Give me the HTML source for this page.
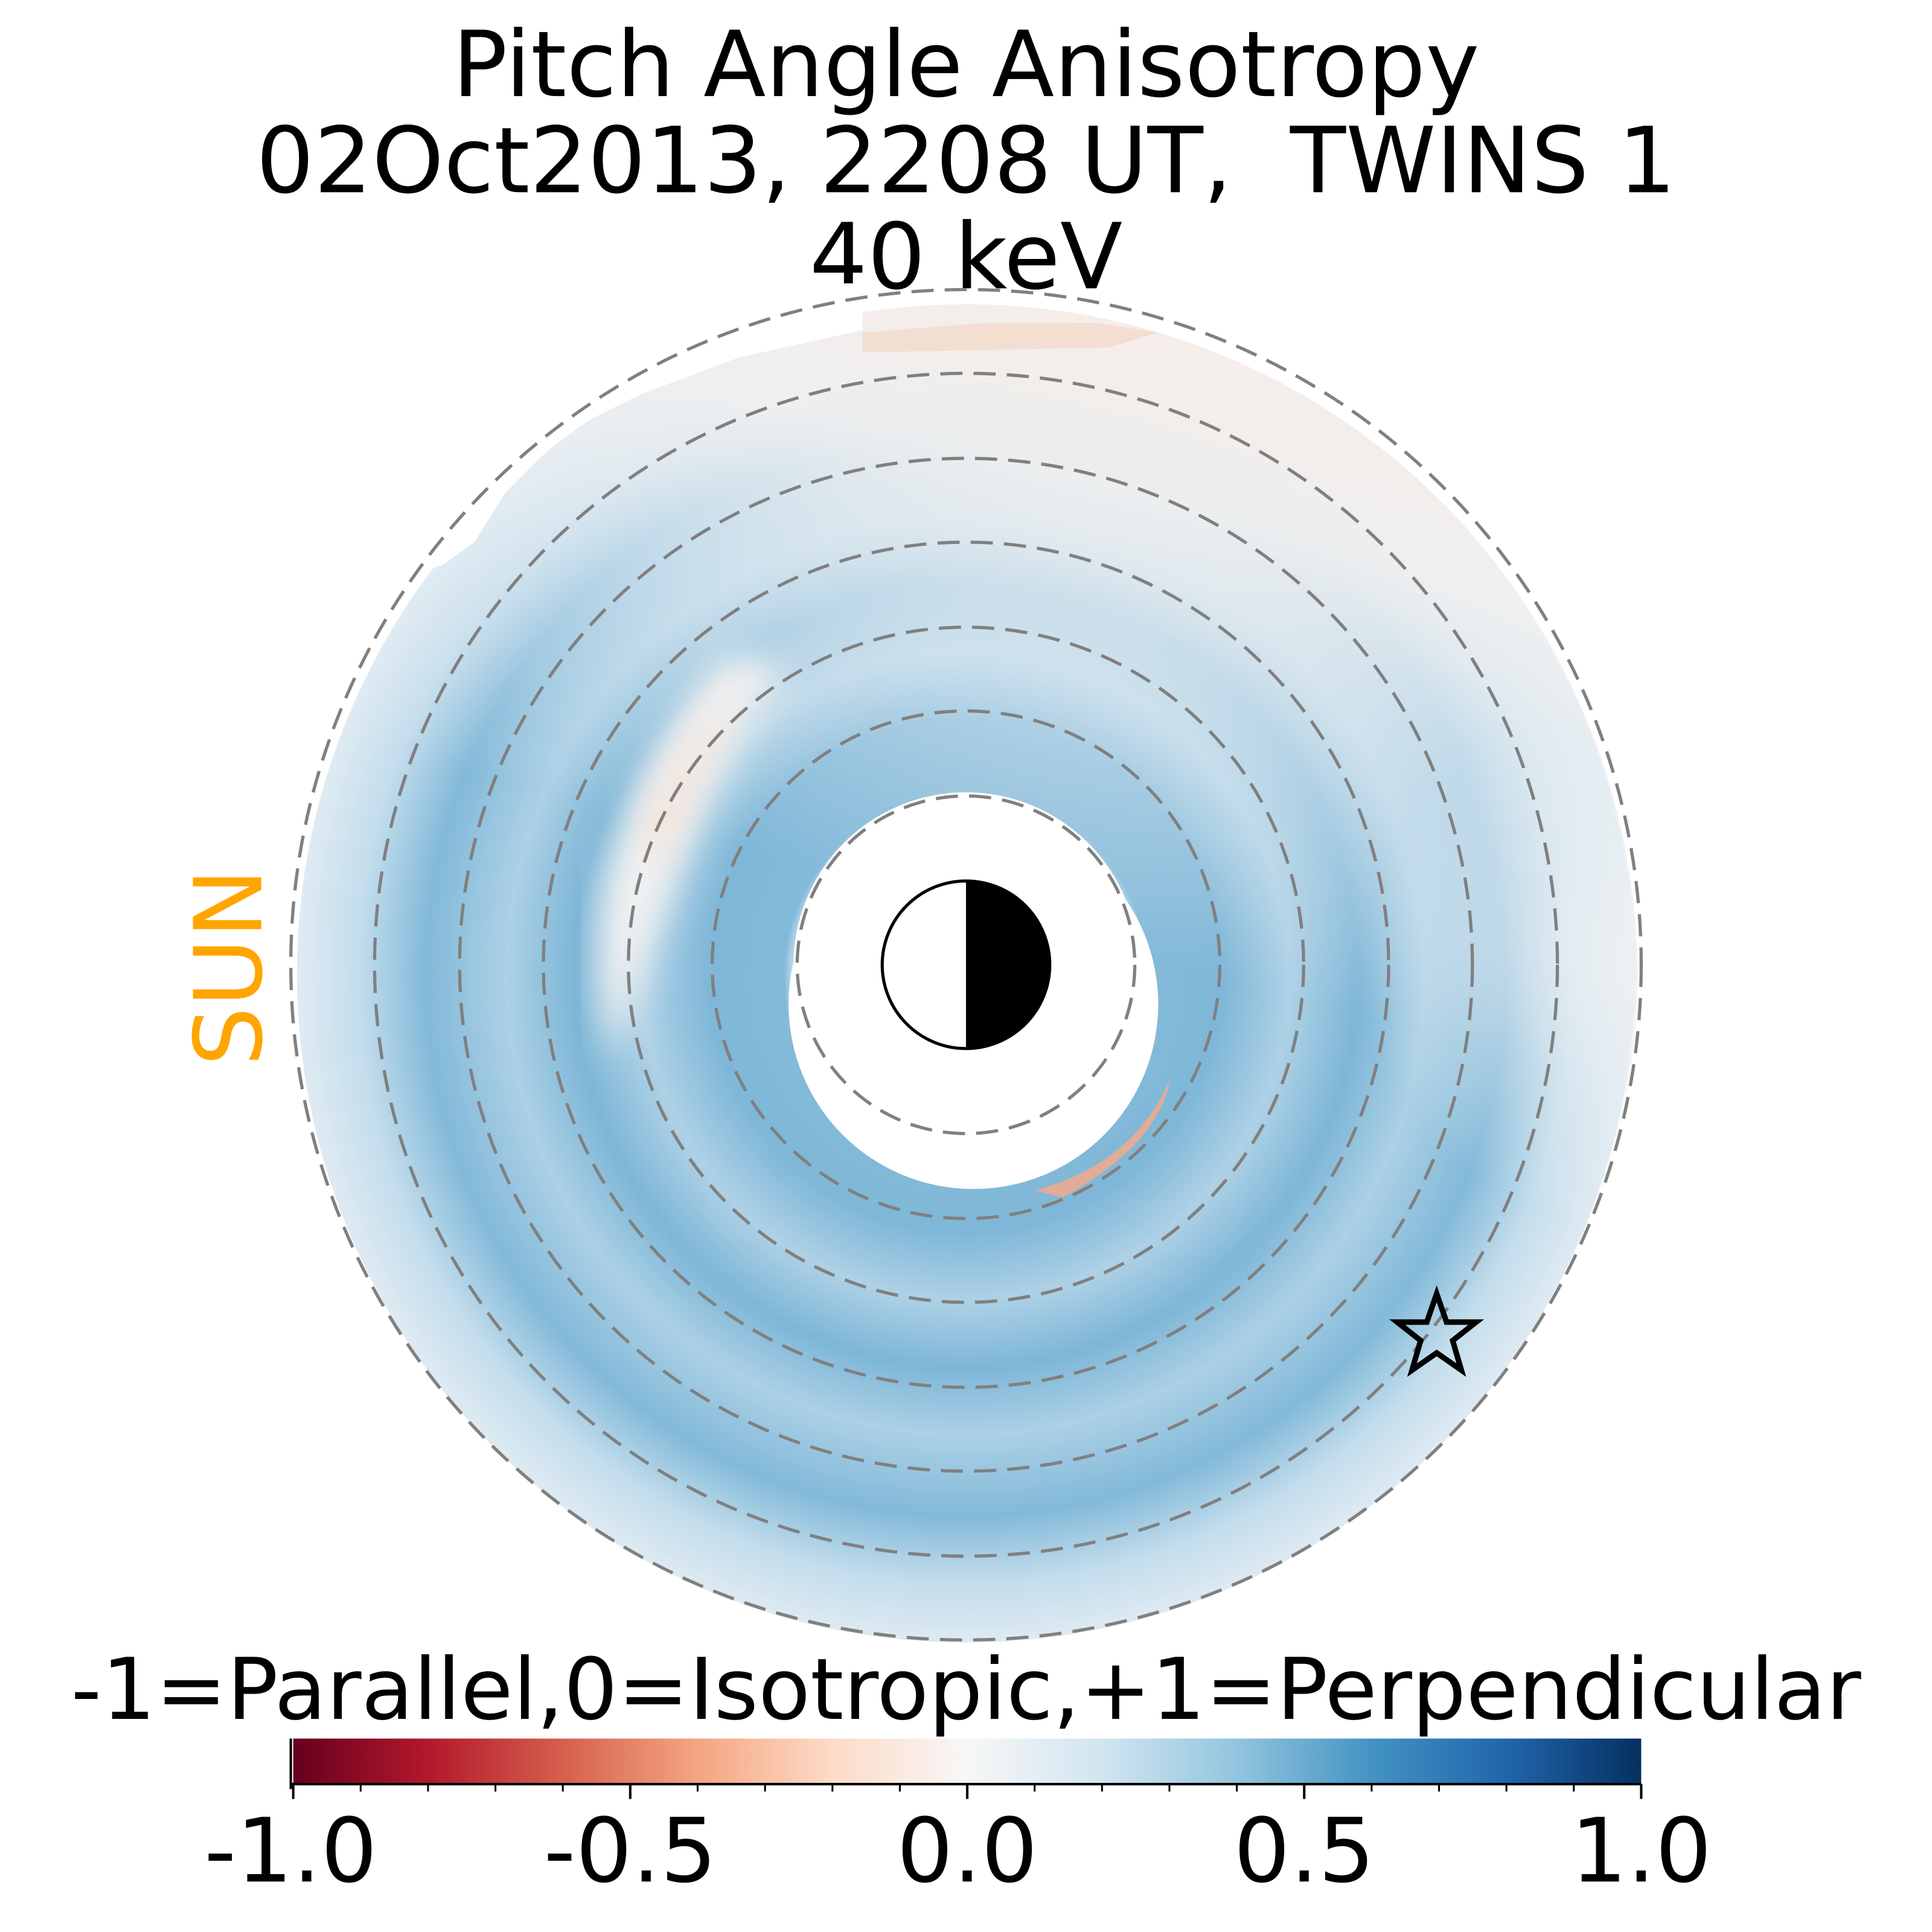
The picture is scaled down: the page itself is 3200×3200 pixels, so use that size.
<!DOCTYPE html>
<html><head><meta charset="utf-8"><style>
html,body{margin:0;padding:0;background:#fff;}
svg{display:block;}
text{font-family:"DejaVu Sans","Liberation Sans",sans-serif;}
</style></head><body>
<svg width="3200" height="3200" viewBox="0 0 1568 1568" xmlns="http://www.w3.org/2000/svg">
<defs>
<radialGradient id="rg" cx="784" cy="792" r="548" gradientUnits="userSpaceOnUse">
<stop offset="0" stop-color="#ffffff"/>
<stop offset="0.24" stop-color="#ffffff"/>
<stop offset="0.27" stop-color="#84bad9"/>
<stop offset="0.38" stop-color="#7fb7d8"/>
<stop offset="0.48" stop-color="#aed1e6"/>
<stop offset="0.58" stop-color="#7db6d7"/>
<stop offset="0.68" stop-color="#acd0e5"/>
<stop offset="0.80" stop-color="#82b9d9"/>
<stop offset="0.90" stop-color="#c3ddec"/>
<stop offset="1" stop-color="#e2ecf3"/>
</radialGradient>
<linearGradient id="ov" x1="0.62" y1="0" x2="0.5" y2="0.45">
<stop offset="0" stop-color="#f6ede8" stop-opacity="1"/>
<stop offset="0.3" stop-color="#f0f0f0" stop-opacity="0.95"/>
<stop offset="0.6" stop-color="#e3ecf2" stop-opacity="0.6"/>
<stop offset="1" stop-color="#dde9f1" stop-opacity="0"/>
</linearGradient>
<radialGradient id="rp" cx="1330" cy="780" r="220" gradientUnits="userSpaceOnUse">
<stop offset="0" stop-color="#eef1f3" stop-opacity="0.9"/>
<stop offset="1" stop-color="#eef1f3" stop-opacity="0"/>
</radialGradient>
<linearGradient id="cb" x1="0" y1="0" x2="1" y2="0">
<stop offset="0" stop-color="#67001f"/>
<stop offset="0.1" stop-color="#b2182b"/>
<stop offset="0.2" stop-color="#d6604d"/>
<stop offset="0.3" stop-color="#f4a582"/>
<stop offset="0.4" stop-color="#fddbc7"/>
<stop offset="0.5" stop-color="#f7f7f7"/>
<stop offset="0.6" stop-color="#d1e5f0"/>
<stop offset="0.7" stop-color="#92c5de"/>
<stop offset="0.8" stop-color="#4393c3"/>
<stop offset="0.9" stop-color="#2166ac"/>
<stop offset="1" stop-color="#053061"/>
</linearGradient>
<filter id="bl"><feGaussianBlur stdDeviation="14"/></filter>
<clipPath id="dc"><circle cx="784" cy="792" r="545"/></clipPath>
</defs>
<g text-anchor="middle" font-size="74" fill="#000">
<text x="784" y="78">Pitch Angle Anisotropy</text>
<text x="784" y="156">02Oct2013, 2208 UT,&#160; TWINS 1</text>
<text x="784" y="234">40 keV</text>
</g>
<circle cx="784" cy="790" r="543" fill="url(#rg)"/>
<g clip-path="url(#dc)">
<circle cx="784" cy="792" r="545" fill="url(#ov)"/>
<rect x="1100" y="500" width="300" height="560" fill="url(#rp)"/>
</g>
<path d="M230 230 L700 230 L700 268 L600 290 L520 320 L460 350 L410 400 L385 440 L360 458 L300 480 L230 560 Z" fill="#ffffff"/>
<path d="M700 270 L800 262 L890 262 L940 270 L900 282 L700 286 Z" fill="#f3c9b3" opacity="0.45"/>
<path d="M590 530 Q520 600 490 720 Q480 800 500 860 Q530 760 570 660 Q600 590 640 545 Z" fill="#f1f1f1" filter="url(#bl)"/>
<path d="M520 680 Q550 610 600 560 Q570 620 535 700 Z" fill="#f6dccd" opacity="0.8" filter="url(#bl)"/>
<path d="M840 966 Q920 945 950 875 Q940 930 862 972 Z" fill="#f2a98d" opacity="0.85"/>
<circle cx="790" cy="815" r="150" fill="#ffffff"/>
<circle cx="784" cy="783" r="140" fill="#ffffff"/>
<g fill="none" stroke="#808080" stroke-width="2.6" stroke-dasharray="18,9">
<circle cx="784" cy="783" r="548"/>
<circle cx="784" cy="783" r="480"/>
<circle cx="784" cy="783" r="411"/>
<circle cx="784" cy="783" r="343"/>
<circle cx="784" cy="783" r="274"/>
<circle cx="784" cy="783" r="206"/>
<circle cx="784" cy="783" r="137"/>
</g>
<path d="M784 715 A68 68 0 0 1 784 851 Z" fill="#000"/>
<circle cx="784" cy="783" r="68" fill="none" stroke="#000" stroke-width="2.5"/>
<text x="0" y="0" font-size="76" fill="#ffa500" text-anchor="middle" transform="translate(212,785) rotate(-90)">SUN</text>
<polygon points="1166,1050 1174,1073 1198,1073 1179,1088 1186,1112 1166,1098 1146,1112 1153,1088 1134,1073 1158,1073" fill="none" stroke="#000" stroke-width="4.5" stroke-linejoin="miter"/>
<text x="784" y="1395" font-size="69" text-anchor="middle">-1=Parallel,0=Isotropic,+1=Perpendicular</text>
<rect x="238" y="1411" width="1094" height="37" fill="url(#cb)"/>
<g stroke="#000" stroke-width="2">
<line x1="236" y1="1411" x2="236" y2="1452"/>
<line x1="236" y1="1448" x2="1332" y2="1448"/>
<line x1="238" y1="1448" x2="238" y2="1460"/>
<line x1="511.5" y1="1448" x2="511.5" y2="1460"/>
<line x1="785" y1="1448" x2="785" y2="1460"/>
<line x1="1058.5" y1="1448" x2="1058.5" y2="1460"/>
<line x1="1332" y1="1448" x2="1332" y2="1460"/>
</g>
<g stroke="#000" stroke-width="1.5">
<line x1="292.7" y1="1448" x2="292.7" y2="1454"/><line x1="347.4" y1="1448" x2="347.4" y2="1454"/><line x1="402.1" y1="1448" x2="402.1" y2="1454"/><line x1="456.8" y1="1448" x2="456.8" y2="1454"/>
<line x1="566.2" y1="1448" x2="566.2" y2="1454"/><line x1="620.9" y1="1448" x2="620.9" y2="1454"/><line x1="675.6" y1="1448" x2="675.6" y2="1454"/><line x1="730.3" y1="1448" x2="730.3" y2="1454"/>
<line x1="839.7" y1="1448" x2="839.7" y2="1454"/><line x1="894.4" y1="1448" x2="894.4" y2="1454"/><line x1="949.1" y1="1448" x2="949.1" y2="1454"/><line x1="1003.8" y1="1448" x2="1003.8" y2="1454"/>
<line x1="1113.2" y1="1448" x2="1113.2" y2="1454"/><line x1="1167.9" y1="1448" x2="1167.9" y2="1454"/><line x1="1222.6" y1="1448" x2="1222.6" y2="1454"/><line x1="1277.3" y1="1448" x2="1277.3" y2="1454"/>
</g>
<g font-size="72" text-anchor="middle">
<text x="236" y="1527">-1.0</text>
<text x="511.5" y="1527">-0.5</text>
<text x="785" y="1527">0.0</text>
<text x="1058.5" y="1527">0.5</text>
<text x="1332" y="1527">1.0</text>
</g>
</svg>
</body></html>
